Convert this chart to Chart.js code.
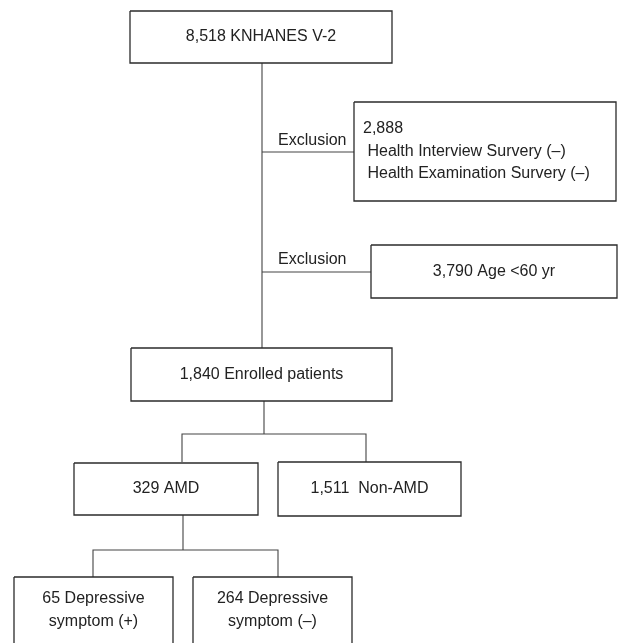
<!DOCTYPE html>
<html>
<head>
<meta charset="utf-8">
<script src="https://cdn.jsdelivr.net/npm/chart.js@4/dist/chart.umd.min.js"></script>
<style>
  html, body { margin: 0; padding: 0; background: #fff; }
  canvas { display: block; }
</style>
</head>
<body>
<canvas id="flow" width="619" height="643"></canvas>
<script>
// flow chart of the study population, drawn on a hidden linear x/y scale

// box texts, one entry per box (each entry is a list of lines)
const boxLines = [
  ['8,518 KNHANES V-2'],
  ['2,888', ' Health Interview Survery (\u2013)', ' Health Examination Survery (\u2013)'],
  ['3,790 Age <60 yr'],
  ['1,840 Enrolled patients'],
  ['329 AMD'],
  ['1,511  Non-AMD'],
  ['65 Depressive', 'symptom (+)'],
  ['264 Depressive', 'symptom (\u2013)']
];
// box corners in scale units [left, top, right, bottom]
const boxRects = [
  [130, 11, 392, 63],
  [354, 102, 616, 201],
  [371, 245, 617, 298],
  [131, 348, 392, 401],
  [74, 463, 258, 515],
  [278, 462, 461, 516],
  [14, 577, 173, 660],
  [193, 577, 352, 660]
];
// connector paths, each a list of [x, y]
const links = [
  [[262, 63], [262, 348]],
  [[262, 152], [354, 152]],
  [[262, 272], [371, 272]],
  [[264, 401], [264, 434]],
  [[182, 462], [182, 434], [366, 434], [366, 462]],
  [[183, 515], [183, 550]],
  [[93, 577], [93, 550], [278, 550], [278, 577]]
];
// side labels on the exclusion branches
const sideLabels = ['Exclusion', 'Exclusion'];
const sideLabelPos = [[278, 141], [278, 260]];

const lineColor = '#444';

const datasets = [];
boxRects.forEach(r => {
  datasets.push({
    data: [{x: r[0], y: r[1]}, {x: r[2], y: r[1]}, {x: r[2], y: r[3]}, {x: r[0], y: r[3]}, {x: r[0], y: r[1]}],
    showLine: true,
    borderColor: '#2b2b2b',
    borderWidth: 1.3,
    pointRadius: 0,
    tension: 0
  });
});
links.forEach(path => {
  datasets.push({
    data: path.map(p => ({x: p[0], y: p[1]})),
    showLine: true,
    borderColor: lineColor,
    borderWidth: 1.1,
    pointRadius: 0,
    tension: 0
  });
});

// writes the box texts and branch labels through the scales
const textPlugin = {
  id: 'boxText',
  afterDatasetsDraw(chart) {
    const c = chart.ctx;
    const xs = chart.scales.x, ys = chart.scales.y;
    c.save();
    c.fillStyle = '#222';
    c.font = '16px "Liberation Sans", Arial, sans-serif';
    c.textBaseline = 'middle';
    boxLines.forEach((lines, i) => {
      const r = boxRects[i];
      if (i === 1) {
        // left aligned block
        c.textAlign = 'left';
        lines.forEach((t, k) => {
          c.fillText(t, xs.getPixelForValue(r[0] + 9), ys.getPixelForValue(129 + k * 22.5));
        });
        return;
      }
      c.textAlign = 'center';
      const cx = (r[0] + r[2]) / 2;
      let cy = (r[1] + r[3]) / 2;
      if (lines.length === 2) cy = r[1] + 33.5;
      lines.forEach((t, k) => {
        c.fillText(t, xs.getPixelForValue(cx), ys.getPixelForValue(cy + (k - (lines.length - 1) / 2) * 23));
      });
    });
    c.textAlign = 'left';
    sideLabels.forEach((t, i) => {
      c.fillText(t, xs.getPixelForValue(sideLabelPos[i][0]), ys.getPixelForValue(sideLabelPos[i][1]));
    });
    c.restore();
  }
};

new Chart(document.getElementById('flow').getContext('2d'), {
  type: 'scatter',
  data: { datasets: datasets },
  options: {
    responsive: false,
    animation: false,
    devicePixelRatio: 1,
    layout: { padding: 0 },
    plugins: { legend: { display: false }, tooltip: { enabled: false } },
    scales: {
      x: { type: 'linear', min: 0, max: 619, display: false },
      y: { type: 'linear', min: 0, max: 643, reverse: true, display: false }
    }
  },
  plugins: [textPlugin]
});
</script>
</body>
</html>
